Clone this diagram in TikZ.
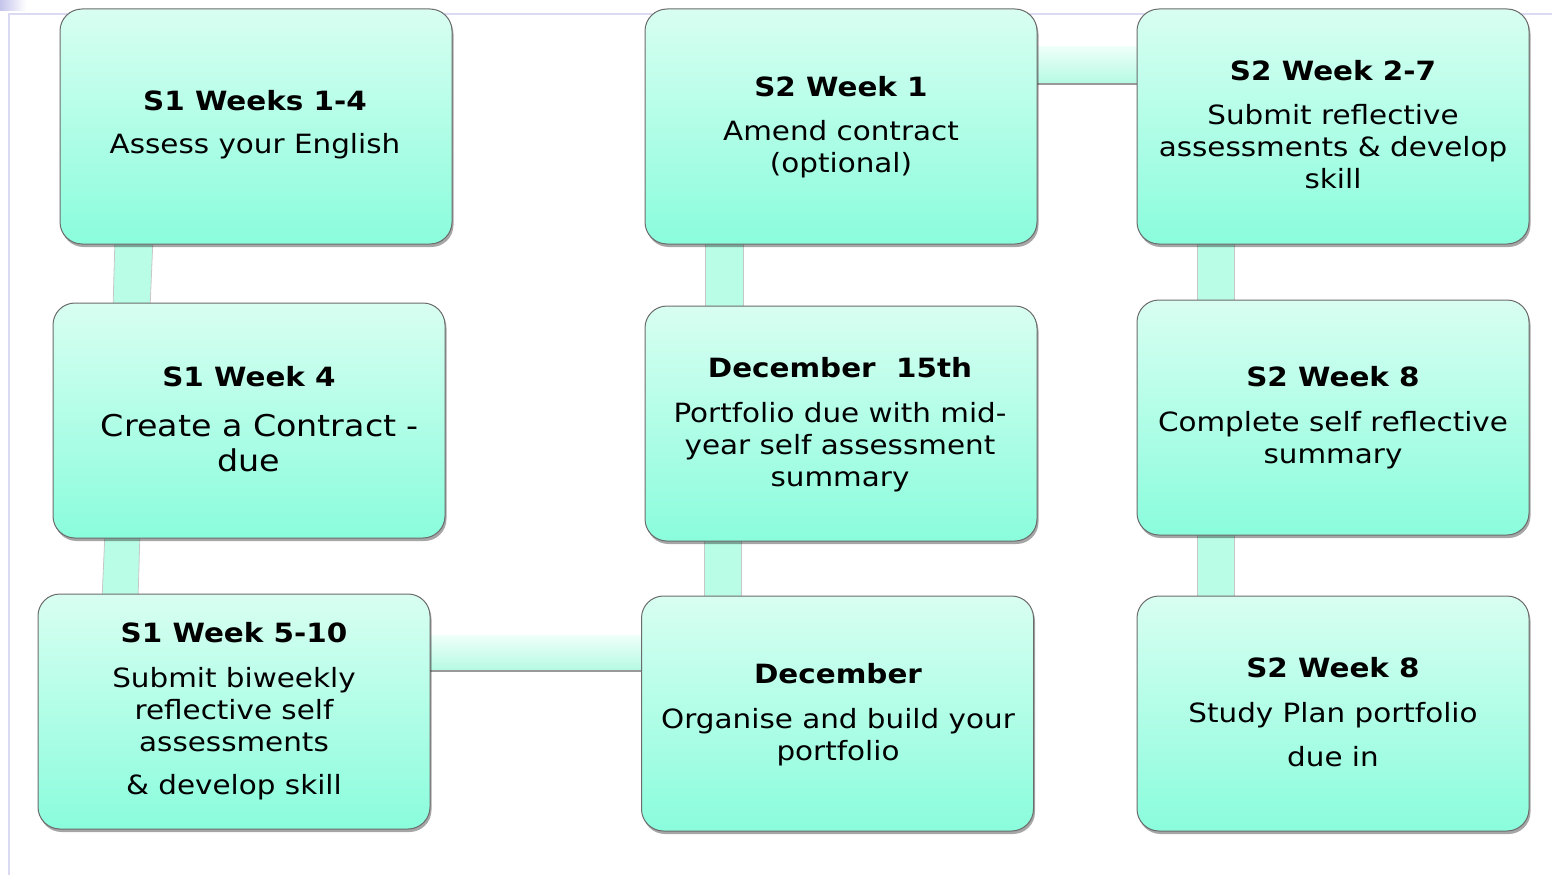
\documentclass[tikz,border=0pt]{standalone}
\usepackage{fontspec}
\setmainfont{DejaVu Sans}[FakeStretch=1.11]
\usetikzlibrary{shadows}
\pgfdeclarelayer{background}
\pgfsetlayers{background,main}
\definecolor{boxtop}{RGB}{216,254,241}
\definecolor{boxbot}{RGB}{138,253,220}
\definecolor{connfill}{RGB}{186,253,230}
\definecolor{conntop}{RGB}{238,255,249}
\definecolor{connbot}{RGB}{180,250,227}
\definecolor{framecol}{RGB}{218,218,242}
\definecolor{cornercol}{RGB}{196,196,236}
\tikzset{
  stagebox/.style={rectangle, rounded corners=22pt, minimum width=392pt, minimum height=235pt,
    inner sep=0pt, top color=boxtop, bottom color=boxbot, draw=black!58, line width=1pt,
    drop shadow={shadow xshift=1.5pt, shadow yshift=-3pt, opacity=0.35, fill=black}},
  stagetext/.style={align=center, inner sep=0pt, font=\fontsize{26.5}{32}\selectfont},
  vconn/.style={fill=connfill, draw=black!22, line width=0.8pt},
  hconn/.style={top color=conntop, bottom color=connbot, draw=none},
  hedge/.style={draw=black!40, line width=1.2pt},
}
\begin{document}
\begin{tikzpicture}[x=1pt,y=-1pt]
\useasboundingbox (0,0) rectangle (1552,875);
% frame
\shade[left color=cornercol, right color=white] (0,0) rectangle (26,11);
\draw[framecol, line width=1.2pt] (8,14) -- (1552,14);
\draw[framecol, line width=1.2pt] (9,14) -- (9,875);
% boxes
\node[stagebox] (b1) at (256,126.5) {};
\node[stagebox] (b2) at (249,420.5) {};
\node[stagebox] (b3) at (234,711.5) {};
\node[stagebox] (b4) at (841,126.5) {};
\node[stagebox] (b5) at (841,423.5) {};
\node[stagebox] (b6) at (837.5,713.5) {};
\node[stagebox] (b7) at (1333,126.5) {};
\node[stagebox] (b8) at (1333,417.5) {};
\node[stagebox] (b9) at (1333,713.5) {};
% texts
\node[stagetext] (t1) at (255,126) {\strut\bfseries S1 Weeks 1-4\\[11pt]\strut Assess your English};
\node[stagetext, font=\fontsize{30}{35}\selectfont] (t2) at (249,423)
  {{\fontsize{26.5}{32}\selectfont\bfseries\strut S1 Week 4}\\[15pt]\hspace*{22pt}Create a Contract -\\\strut due};
\node[stagetext] (t3) at (234,712) {\strut\bfseries S1 Week 5-10\\[13pt]Submit biweekly\\reflective self\\assessments\\[11pt]\strut\&~develop skill};
\node[stagetext] (t4) at (841,128) {\strut\bfseries S2 Week 1\\[12pt]Amend contract\\\strut(optional)};
\node[stagetext] (t5) at (840,425.5) {\strut\bfseries December~~15th\\[13pt]Portfolio due with mid-\\year self assessment\\\strut summary};
\node[stagetext] (t6) at (838,716) {\strut\bfseries December\\[13pt]Organise and build your\\\strut portfolio};
\node[stagetext] (t7) at (1333,128.5) {\strut\bfseries S2 Week 2-7\\[12pt]Submit reflective\\assessments \& develop\\\strut skill};
\node[stagetext] (t8) at (1333,419) {\strut\bfseries S2 Week 8\\[13pt]Complete self reflective\\\strut summary};
\node[stagetext] (t9) at (1333,716) {\strut\bfseries S2 Week 8\\[13pt]Study Plan portfolio\\[12pt]\strut due in};
% connectors
\begin{pgfonlayer}{background}
\filldraw[vconn] ([xshift=-141pt,yshift=6pt]b1.south) -- ([xshift=-103pt,yshift=6pt]b1.south)
  -- ([xshift=-99pt,yshift=-6pt]b2.north) -- ([xshift=-136pt,yshift=-6pt]b2.north) -- cycle;
\filldraw[vconn] ([xshift=-144pt,yshift=6pt]b2.south) -- ([xshift=-109pt,yshift=6pt]b2.south)
  -- ([xshift=-96pt,yshift=-6pt]b3.north) -- ([xshift=-132pt,yshift=-6pt]b3.north) -- cycle;
\filldraw[vconn] ([xshift=-136pt,yshift=6pt]b4.south) -- ([xshift=-98pt,yshift=6pt]b4.south)
  -- ([xshift=-98pt,yshift=-6pt]b5.north) -- ([xshift=-136pt,yshift=-6pt]b5.north) -- cycle;
\filldraw[vconn] ([xshift=-137pt,yshift=6pt]b5.south) -- ([xshift=-100pt,yshift=6pt]b5.south)
  -- ([xshift=-96.5pt,yshift=-6pt]b6.north) -- ([xshift=-133.5pt,yshift=-6pt]b6.north) -- cycle;
\filldraw[vconn] ([xshift=-136pt,yshift=6pt]b7.south) -- ([xshift=-99pt,yshift=6pt]b7.south)
  -- ([xshift=-99pt,yshift=-6pt]b8.north) -- ([xshift=-136pt,yshift=-6pt]b8.north) -- cycle;
\filldraw[vconn] ([xshift=-136pt,yshift=6pt]b8.south) -- ([xshift=-99pt,yshift=6pt]b8.south)
  -- ([xshift=-99pt,yshift=-6pt]b9.north) -- ([xshift=-136pt,yshift=-6pt]b9.north) -- cycle;
% horizontal connectors
\shade[hconn] ([xshift=-6pt,yshift=79.5pt]b4.east) rectangle ([xshift=6pt,yshift=42.5pt]b7.west);
\draw[hedge] ([xshift=-6pt,yshift=42.5pt]b4.east) -- ([xshift=6pt,yshift=42.5pt]b7.west);
\shade[hconn] ([xshift=-6pt,yshift=76.5pt]b3.east) rectangle ([xshift=6pt,yshift=42.5pt]b6.west);
\draw[hedge] ([xshift=-6pt,yshift=40.5pt]b3.east) -- ([xshift=6pt,yshift=42.5pt]b6.west);
\end{pgfonlayer}
\end{tikzpicture}
\end{document}
